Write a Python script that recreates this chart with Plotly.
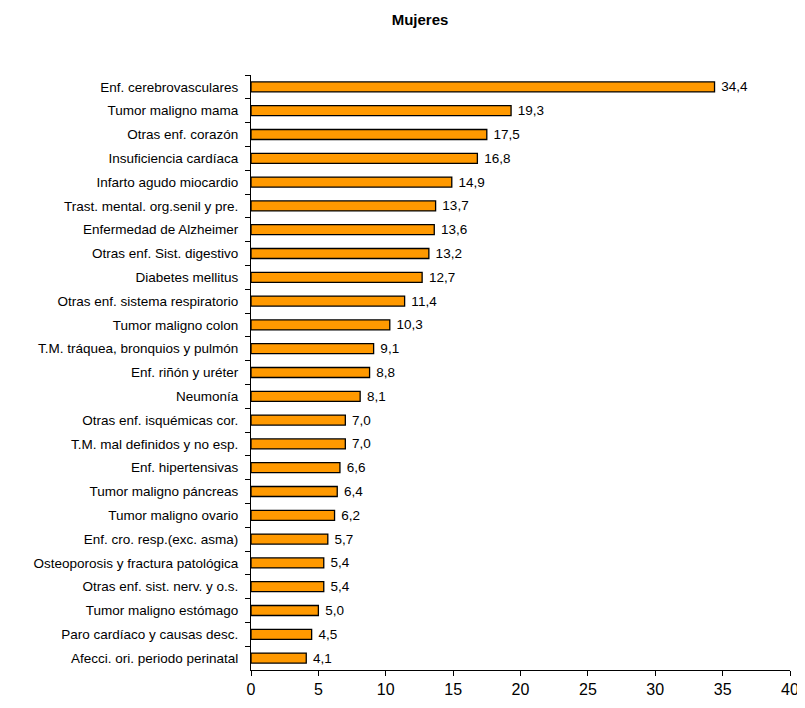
import plotly.graph_objects as go

categories = [
    "Enf. cerebrovasculares",
    "Tumor maligno mama",
    "Otras enf. corazón",
    "Insuficiencia cardíaca",
    "Infarto agudo miocardio",
    "Trast. mental. org.senil y pre.",
    "Enfermedad de Alzheimer",
    "Otras enf. Sist. digestivo",
    "Diabetes mellitus",
    "Otras enf. sistema respiratorio",
    "Tumor maligno colon",
    "T.M. tráquea, bronquios y pulmón",
    "Enf. riñón y uréter",
    "Neumonía",
    "Otras enf. isquémicas cor.",
    "T.M. mal definidos y no esp.",
    "Enf. hipertensivas",
    "Tumor maligno páncreas",
    "Tumor maligno ovario",
    "Enf. cro. resp.(exc. asma)",
    "Osteoporosis y fractura patológica",
    "Otras enf. sist. nerv. y o.s.",
    "Tumor maligno estómago",
    "Paro cardíaco y causas desc.",
    "Afecci. ori. periodo perinatal",
]
values = [34.4, 19.3, 17.5, 16.8, 14.9, 13.7, 13.6, 13.2, 12.7, 11.4, 10.3, 9.1,
          8.8, 8.1, 7.0, 7.0, 6.6, 6.4, 6.2, 5.7, 5.4, 5.4, 5.0, 4.5, 4.1]
x_ticks = [0, 5, 10, 15, 20, 25, 30, 35, 40]
title = "Mujeres"

labels = [" " + f"{v:.1f}".replace(".", ",") for v in values]

FONT = "Liberation Sans, Arial"

fig = go.Figure(go.Bar(
    x=values,
    y=categories,
    orientation="h",
    text=labels,
    textposition="outside",
    constraintext="none",
    cliponaxis=False,
    textfont=dict(family=FONT, size=13.5, color="#000000"),
    marker=dict(color="#FF9900", line=dict(color="#000000", width=1.3)),
    width=0.42,
))

# page body has an 8px margin, so the figure is sized/offset to compensate
fig.update_layout(
    width=797, height=700,
    margin=dict(l=243, r=15, t=67, b=38),
    paper_bgcolor="white", plot_bgcolor="white",
    title=dict(text=f"<b>{title}</b>", x=0.517, xanchor="center", y=0.983, yanchor="middle",
               font=dict(family=FONT, size=15, color="#000000")),
    showlegend=False,
    font=dict(family=FONT, color="#000000"),
)
fig.update_xaxes(
    range=[0, 40], tickvals=x_ticks, ticktext=[str(t) for t in x_ticks],
    showgrid=False, zeroline=False, showline=True, linecolor="#000000", linewidth=1,
    ticks="outside", ticklen=5, tickcolor="#000000", automargin=False,
    ticklabeloverflow="allow",
    tickfont=dict(size=16, family=FONT),
)
fig.update_yaxes(
    autorange="reversed", showgrid=False, showline=True, linecolor="#000000", linewidth=1,
    ticks="outside", ticklen=5, tickcolor="#000000", tickson="boundaries", automargin=False,
    ticklabelstandoff=9,
    tickfont=dict(size=13.5, family=FONT),
)

fig.write_html("out.html")
